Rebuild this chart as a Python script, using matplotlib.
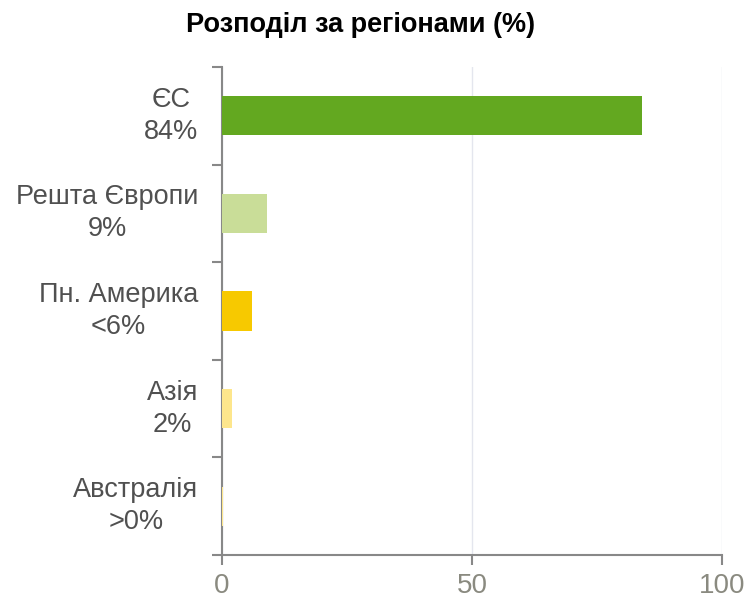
""" Розподіл за регіонами - horizontal bars """

import matplotlib
matplotlib.use('Agg')
import matplotlib.pyplot as plt

# DATA
regions = ['ЄС', 'Решта Європи', 'Пн. Америка', 'Азія', 'Австралія']
share_labels = ['84%', '9%', '<6%', '2%', '>0%']
values = [84, 9, 6, 2, 0.1]
colors = ['#63a820', '#c9dd98', '#f7c900', '#fde68c', '#fde68c']
x_ticks = [0, 50, 100]

plt.rcParams['font.family'] = ['Liberation Sans', 'DejaVu Sans']

fig = plt.figure(figsize=(7.44, 5.99), dpi=100)
ax = fig.add_axes([0.2984, 0.0735, 0.672, 0.8146])

pos = list(range(len(regions)))
ax.barh(pos, values, height=0.4, color=colors, zorder=3)

ax.set_ylim(len(regions) - 0.5, -0.5)
ax.set_xlim(0, 100)

# category ticks sit on the band edges, labels at band centres
ax.set_yticks([p - 0.5 for p in pos] + [len(regions) - 0.5])
ax.set_yticklabels([])
ax.set_yticks(pos, minor=True)
ax.set_yticklabels([f'{r}\n{s}' for r, s in zip(regions, share_labels)],
                   minor=True, fontsize=19.5, color='#505050', va='center',
                   multialignment='center', linespacing=1.3)
ax.tick_params(axis='y', which='major', length=7, width=1.5, color='#888888')
ax.tick_params(axis='y', which='minor', length=0, pad=17)

ax.set_xticks(x_ticks)
ax.set_xticklabels([str(t) for t in x_ticks], fontsize=20, color='#8a8a80')
ax.tick_params(axis='x', length=7, width=1.5, color='#888888', pad=6)

ax.grid(axis='x', color='#e4e6ee', linewidth=1, zorder=0)

for side in ['top', 'right']:
    ax.spines[side].set_visible(False)
for side in ['left', 'bottom']:
    ax.spines[side].set_color('#888888')
    ax.spines[side].set_linewidth(1.5)

fig.text(361 / 744, 1 - 25 / 599, 'Розподіл за регіонами (%)',
         ha='center', va='center', fontsize=19.5, fontweight='bold', color='black')

fig.savefig('out.png', dpi=100)
